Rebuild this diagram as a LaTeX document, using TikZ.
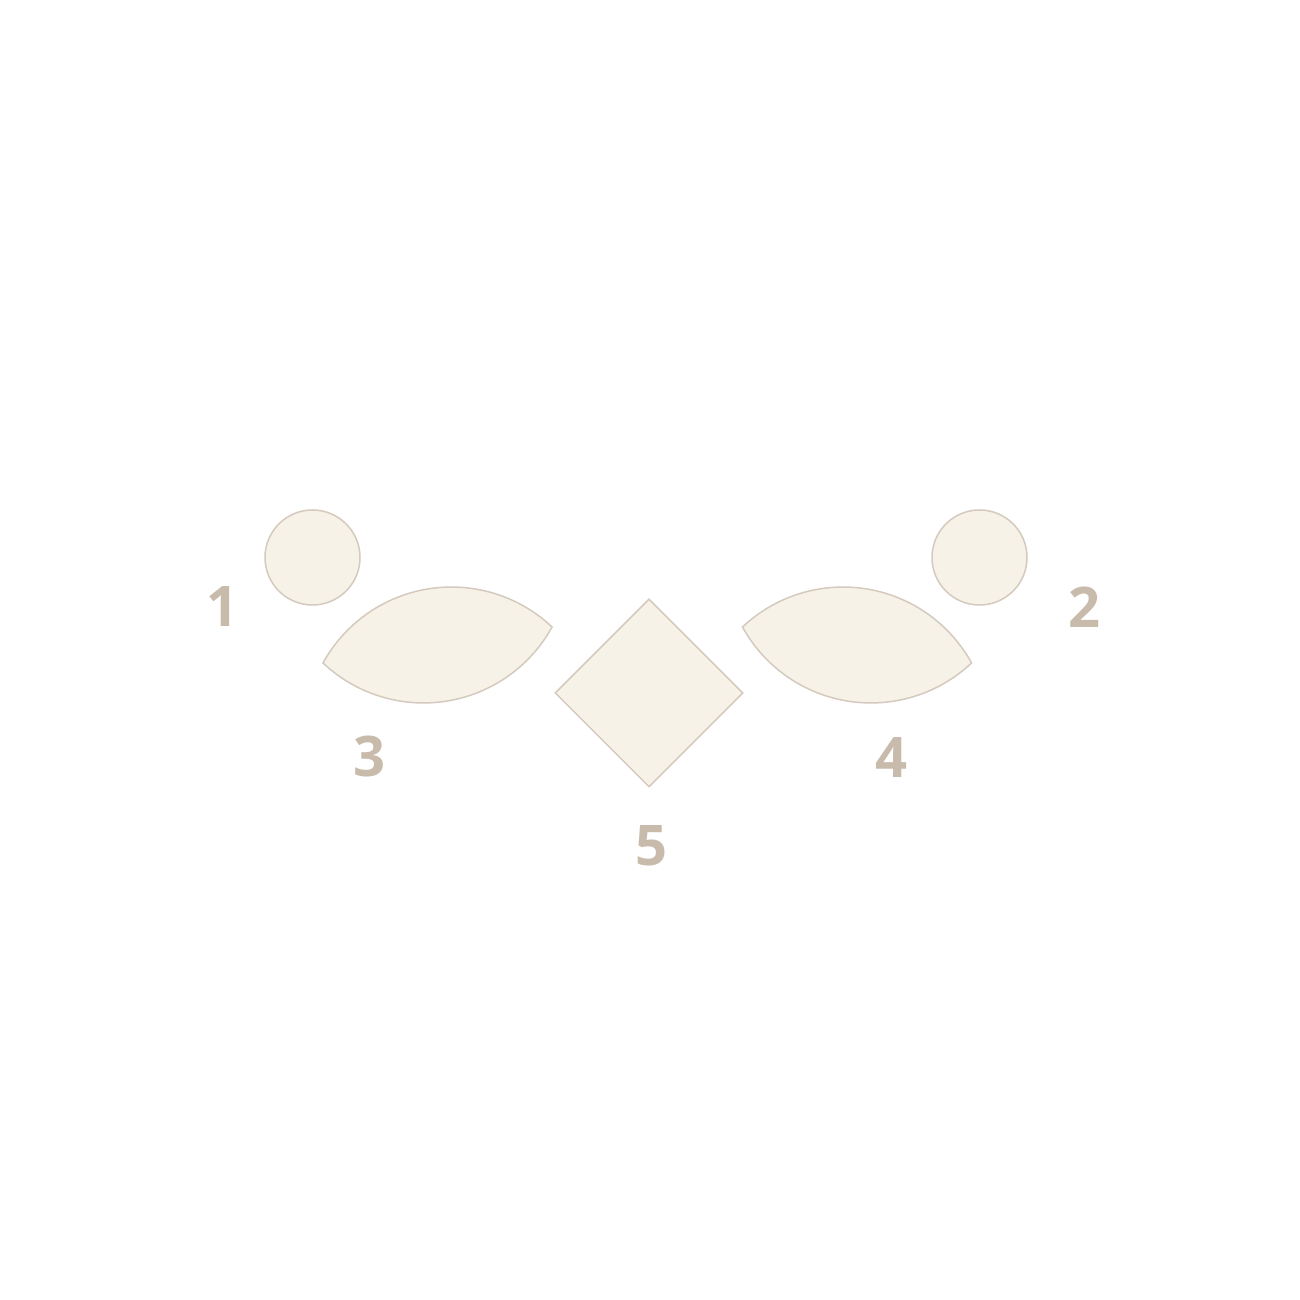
\documentclass[tikz,border=0pt]{standalone}
\usepackage{fontspec}
\setmainfont{Open Sans}
\usetikzlibrary{shapes.geometric}
\definecolor{shapefill}{RGB}{247,242,231}
\definecolor{shapeline}{RGB}{212,202,190}
\definecolor{labelcol}{RGB}{201,187,171}
\tikzset{
  piece/.style={fill=shapefill, draw=shapeline, line width=1.5pt},
  num/.style={text=labelcol, font=\fontsize{56}{60}\selectfont\bfseries, inner sep=0pt}
}
\begin{document}
\begin{tikzpicture}[x=1pt,y=1pt]
\useasboundingbox[fill=white] (0,0) rectangle (1300,1300);
% circles
\node[piece, circle, minimum size=95pt, inner sep=0pt] (c1) at (312.5,742.5) {};
\node[piece, circle, minimum size=95pt, inner sep=0pt] (c2) at (979.5,742.5) {};
% leaf 3
\begin{scope}[shift={(437.5,655)}, rotate=8.93]
\draw[piece] (-115.9,0) arc[start angle=142.26, end angle=37.74, radius=146.6]
  arc[start angle=-37.74, end angle=-142.26, radius=146.6] -- cycle;
\end{scope}
% leaf 4
\begin{scope}[shift={(857,655)}, rotate=-8.93]
\draw[piece] (-115.9,0) arc[start angle=142.26, end angle=37.74, radius=146.6]
  arc[start angle=-37.74, end angle=-142.26, radius=146.6] -- cycle;
\end{scope}
% diamond
\node[piece, diamond, minimum width=188pt, minimum height=188pt, inner sep=0pt, aspect=1] (d5) at (649,607) {};
% labels
\node[num] (l1) at (222,693) {1};
\node[num] (l2) at (1084,693) {2};
\node[num] (l3) at (369,543) {3};
\node[num] (l4) at (891,542) {4};
\node[num] (l5) at (651,454) {5};
\end{tikzpicture}
\end{document}
